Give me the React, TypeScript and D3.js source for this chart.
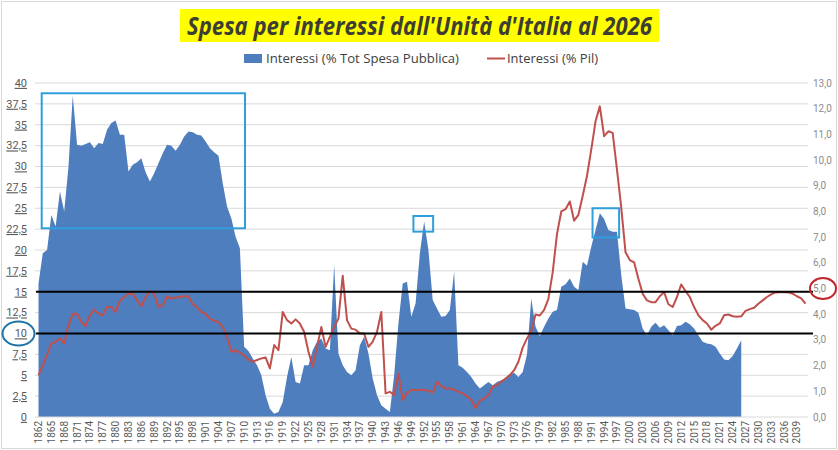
import React, { useEffect, useRef } from 'react';
import * as d3 from 'd3';

// Categories: one per year
const years: number[] = d3.range(1862, 2042);

// Interessi (% Tot Spesa Pubblica), 1862-2026, left axis
const spesaPct: number[] = [
  16.0, 19.6, 20.0, 24.2, 22.8, 27.0, 24.6, 30.0, 38.5, 32.6,
  32.5, 32.7, 32.9, 32.2, 32.8, 32.7, 34.4, 35.2, 35.5, 33.8,
  33.8, 29.4, 30.2, 30.5, 31.0, 29.3, 28.2, 29.2, 30.4, 31.6,
  32.6, 32.5, 31.9, 32.6, 33.6, 34.2, 34.1, 33.8, 33.7, 33.0,
  32.2, 31.7, 31.3, 28.0, 25.2, 23.8, 21.6, 20.2, 8.4, 7.9,
  7.0, 6.2, 5.0, 2.6, 1.0, 0.4, 0.6, 1.8, 4.8, 7.2,
  4.2, 4.0, 6.2, 6.2, 8.0, 9.0, 9.4, 8.2, 8.0, 18.2,
  7.6, 6.2, 5.4, 5.0, 5.6, 8.6, 9.6, 7.6, 4.6, 2.6,
  1.4, 1.0, 0.6, 5.0, 11.2, 16.0, 16.2, 12.0, 13.6, 19.6,
  23.4, 20.0, 14.0, 13.0, 12.0, 12.1, 12.8, 17.4, 6.2, 5.9,
  5.4, 4.8, 4.0, 3.4, 3.8, 4.2, 3.8, 4.2, 4.4, 4.6,
  5.1, 5.3, 4.8, 5.4, 7.5, 14.2, 10.8, 9.7, 10.8, 11.8,
  12.6, 12.8, 15.6, 15.9, 16.6, 15.6, 15.2, 18.6, 18.1, 20.4,
  22.4, 24.4, 23.7, 22.4, 22.2, 22.2, 17.0, 13.0, 12.9, 12.8,
  12.5, 10.6, 9.8, 10.8, 11.3, 10.7, 11.0, 10.4, 9.8, 10.9,
  11.0, 11.4, 11.1, 10.6, 9.8, 9.0, 8.8, 8.7, 8.4, 7.6,
  6.9, 6.8, 7.3, 8.2, 9.2,
];

// Interessi (% Pil), 1862-2041, right axis
const pilPct: number[] = [
  1.63, 2.02, 2.41, 2.86, 2.93, 3.06, 2.86, 3.57, 4.02, 4.02,
  3.70, 3.53, 3.96, 4.18, 4.02, 3.96, 4.28, 4.28, 4.09, 4.54,
  4.67, 4.80, 4.80, 4.54, 4.31, 4.67, 4.90, 4.80, 4.28, 4.35,
  4.70, 4.61, 4.65, 4.67, 4.70, 4.70, 4.39, 4.28, 4.09, 4.02,
  3.83, 3.74, 3.70, 3.50, 3.12, 2.54, 2.60, 2.50, 2.41, 2.24,
  2.15, 2.22, 2.28, 2.32, 1.89, 2.80, 2.60, 4.09, 3.77, 3.64,
  3.80, 3.64, 3.31, 2.54, 1.96, 2.73, 3.50, 2.73, 3.12, 3.50,
  3.83, 5.50, 3.77, 3.44, 3.40, 3.25, 3.25, 2.73, 2.93, 3.31,
  4.09, 0.92, 0.98, 0.85, 1.69, 0.66, 0.92, 1.05, 1.05, 1.05,
  1.05, 1.02, 0.95, 1.37, 1.20, 1.11, 1.11, 1.07, 0.98, 0.92,
  0.81, 0.66, 0.34, 0.63, 0.72, 0.85, 1.18, 1.24, 1.37, 1.50,
  1.63, 1.82, 2.15, 2.70, 3.06, 3.35, 3.99, 3.95, 4.17, 4.60,
  5.63, 7.12, 8.00, 8.09, 8.39, 7.64, 7.87, 8.60, 9.38, 10.41,
  11.51, 12.09, 10.93, 11.12, 11.06, 9.64, 8.15, 6.41, 6.11, 6.02,
  5.38, 4.80, 4.54, 4.47, 4.47, 4.70, 4.86, 4.39, 4.28, 4.67,
  5.16, 4.90, 4.67, 4.28, 3.96, 3.77, 3.64, 3.40, 3.55, 3.64,
  3.96, 3.99, 3.92, 3.90, 3.92, 4.13, 4.20, 4.25, 4.41, 4.54,
  4.67, 4.77, 4.85, 4.86, 4.86, 4.85, 4.80, 4.70, 4.62, 4.41,
];

const leftTicks = [0, 2.5, 5, 7.5, 10, 12.5, 15, 17.5, 20, 22.5, 25, 27.5, 30, 32.5, 35, 37.5, 40];
const rightTicks = [0, 1, 2, 3, 4, 5, 6, 7, 8, 9, 10, 11, 12, 13];
const yearLabels = years.filter((y) => (y - 1862) % 3 === 0);

// Highlighted boxes: [year from, year to, value top, value bottom] on the left axis
const boxes = [
  [1862.75, 1910.2, 38.77, 22.6],
  [1949.5, 1954.1, 24.07, 22.2],
  [1991.3, 1997.5, 25.0, 21.5],
];
const refLines = [15, 10];

const fmt = (v: number, d: number) => v.toFixed(d).replace('.', ',').replace(/,0$/, d === 1 ? ',0' : '');

const App = () => {
  const svgRef = useRef<SVGSVGElement>(null);

  useEffect(() => {
    const width = 838;
    const height = 450;
    const margin = { top: 83, left: 38.5, right: 805.5, bottom: 417 };
    const font = "'Liberation Sans Narrow', Roboto, 'DejaVu Sans', sans-serif";

    const svg = d3.select(svgRef.current)
      .attr('width', width)
      .attr('height', height);
    svg.selectAll('*').remove();

    svg.append('rect')
      .attr('x', 1.5).attr('y', 1.5)
      .attr('width', width - 3).attr('height', height - 3)
      .attr('fill', '#fff').attr('stroke', '#d9d9d9');

    const x = d3.scalePoint<number>().domain(years).range([margin.left, margin.right]);
    const xYear = d3.scaleLinear().domain([1862, 2041]).range([margin.left, margin.right]);
    const yL = d3.scaleLinear().domain([0, 40]).range([margin.bottom, margin.top]);
    const yR = d3.scaleLinear().domain([0, 13]).range([margin.bottom, margin.top]);

    // Gridlines
    svg.append('g').selectAll('line')
      .data(leftTicks.slice(1))
      .enter()
      .append('line')
      .attr('x1', 35).attr('x2', 808)
      .attr('y1', (d) => yL(d)).attr('y2', (d) => yL(d))
      .style('stroke', '#d9d9d9').style('stroke-width', 1);

    // Area
    const area = d3.area<number>()
      .x((d, i) => x(years[i]) as number)
      .y0(yL(0))
      .y1((d) => yL(d));
    svg.append('path')
      .datum(spesaPct)
      .attr('fill', '#4f7ebf')
      .attr('d', area);

    // baseline
    svg.append('line')
      .attr('x1', 35).attr('x2', 808)
      .attr('y1', yL(0)).attr('y2', yL(0))
      .style('stroke', '#d9d9d9');

    // Line
    const line = d3.line<number>()
      .x((d, i) => x(years[i]) as number)
      .y((d) => yR(d));
    svg.append('path')
      .datum(pilPct)
      .attr('fill', 'none')
      .attr('stroke', '#c0504d')
      .attr('stroke-width', 2)
      .attr('stroke-linejoin', 'round')
      .attr('d', line);

    // Black reference lines
    svg.append('g').selectAll('line')
      .data(refLines)
      .enter()
      .append('line')
      .attr('x1', 36).attr('x2', 813)
      .attr('y1', (d) => yL(d)).attr('y2', (d) => yL(d))
      .style('stroke', '#000').style('stroke-width', 2);

    // Highlight boxes
    svg.append('g').selectAll('rect')
      .data(boxes)
      .enter()
      .append('rect')
      .attr('x', (d) => xYear(d[0]))
      .attr('y', (d) => yL(d[2]))
      .attr('width', (d) => xYear(d[1]) - xYear(d[0]))
      .attr('height', (d) => yL(d[3]) - yL(d[2]))
      .attr('fill', 'none')
      .attr('stroke', '#2f9fdb')
      .attr('stroke-width', 2);

    // Left axis labels
    svg.append('g').selectAll('text')
      .data(leftTicks)
      .enter()
      .append('text')
      .attr('x', 27)
      .attr('y', (d) => yL(d))
      .attr('dy', '0.35em')
      .style('text-anchor', 'end')
      .style('font-family', font)
      .style('font-size', '11px')
      .style('fill', '#595959')
      .style('text-decoration', 'underline')
      .text((d) => String(d).replace('.', ','));

    // Right axis labels
    svg.append('g').selectAll('text')
      .data(rightTicks)
      .enter()
      .append('text')
      .attr('x', 813)
      .attr('y', (d) => yR(d))
      .attr('dy', '0.35em')
      .style('font-family', font)
      .style('font-size', '10px')
      .style('fill', '#8c8c8c')
      .text((d) => fmt(d, 1));

    // X labels
    svg.append('g').selectAll('text')
      .data(yearLabels)
      .enter()
      .append('text')
      .attr('transform', (d) => `translate(${x(d)},421) rotate(-90)`)
      .attr('dy', '0.35em')
      .style('text-anchor', 'end')
      .style('font-family', font)
      .style('font-size', '10px')
      .style('fill', '#595959')
      .text((d) => d);

    // Circles on the axes
    svg.append('ellipse')
      .attr('cx', 18.5).attr('cy', yL(10))
      .attr('rx', 16).attr('ry', 12)
      .attr('fill', 'none').attr('stroke', '#1f74a6').attr('stroke-width', 2);
    svg.append('ellipse')
      .attr('cx', 823).attr('cy', yR(5))
      .attr('rx', 13).attr('ry', 10.5)
      .attr('fill', 'none').attr('stroke', '#c0282d').attr('stroke-width', 2);

    // Title
    svg.append('rect')
      .attr('x', 180).attr('y', 9)
      .attr('width', 479).attr('height', 33)
      .attr('fill', '#ffff00');
    svg.append('text')
      .attr('x', 187)
      .attr('y', 35)
      .attr('textLength', 465)
      .attr('lengthAdjust', 'spacingAndGlyphs')
      .style('font-family', "'Open Sans', sans-serif")
      .style('font-size', '25px')
      .style('font-weight', 'bold')
      .style('font-style', 'italic')
      .style('fill', '#3d3d33')
      .text("Spesa per interessi dall'Unità d'Italia al 2026");

    // Legend
    svg.append('rect')
      .attr('x', 244).attr('y', 54)
      .attr('width', 18).attr('height', 9)
      .attr('fill', '#4f7ebf');
    svg.append('text')
      .attr('x', 266).attr('y', 63)
      .attr('textLength', 193)
      .attr('lengthAdjust', 'spacingAndGlyphs')
      .style('font-family', "'Open Sans', sans-serif")
      .style('font-size', '13px')
      .style('fill', '#404040')
      .text('Interessi (% Tot Spesa Pubblica)');
    svg.append('line')
      .attr('x1', 487).attr('x2', 505)
      .attr('y1', 58.5).attr('y2', 58.5)
      .attr('stroke', '#c0504d').attr('stroke-width', 2);
    svg.append('text')
      .attr('x', 507).attr('y', 63)
      .attr('textLength', 91)
      .attr('lengthAdjust', 'spacingAndGlyphs')
      .style('font-family', "'Open Sans', sans-serif")
      .style('font-size', '13px')
      .style('fill', '#404040')
      .text('Interessi (% Pil)');
  }, []);

  return (
    <svg ref={svgRef} style={{ position: 'absolute', left: 0, top: 0, display: 'block' }}></svg>
  );
};

export default App;
